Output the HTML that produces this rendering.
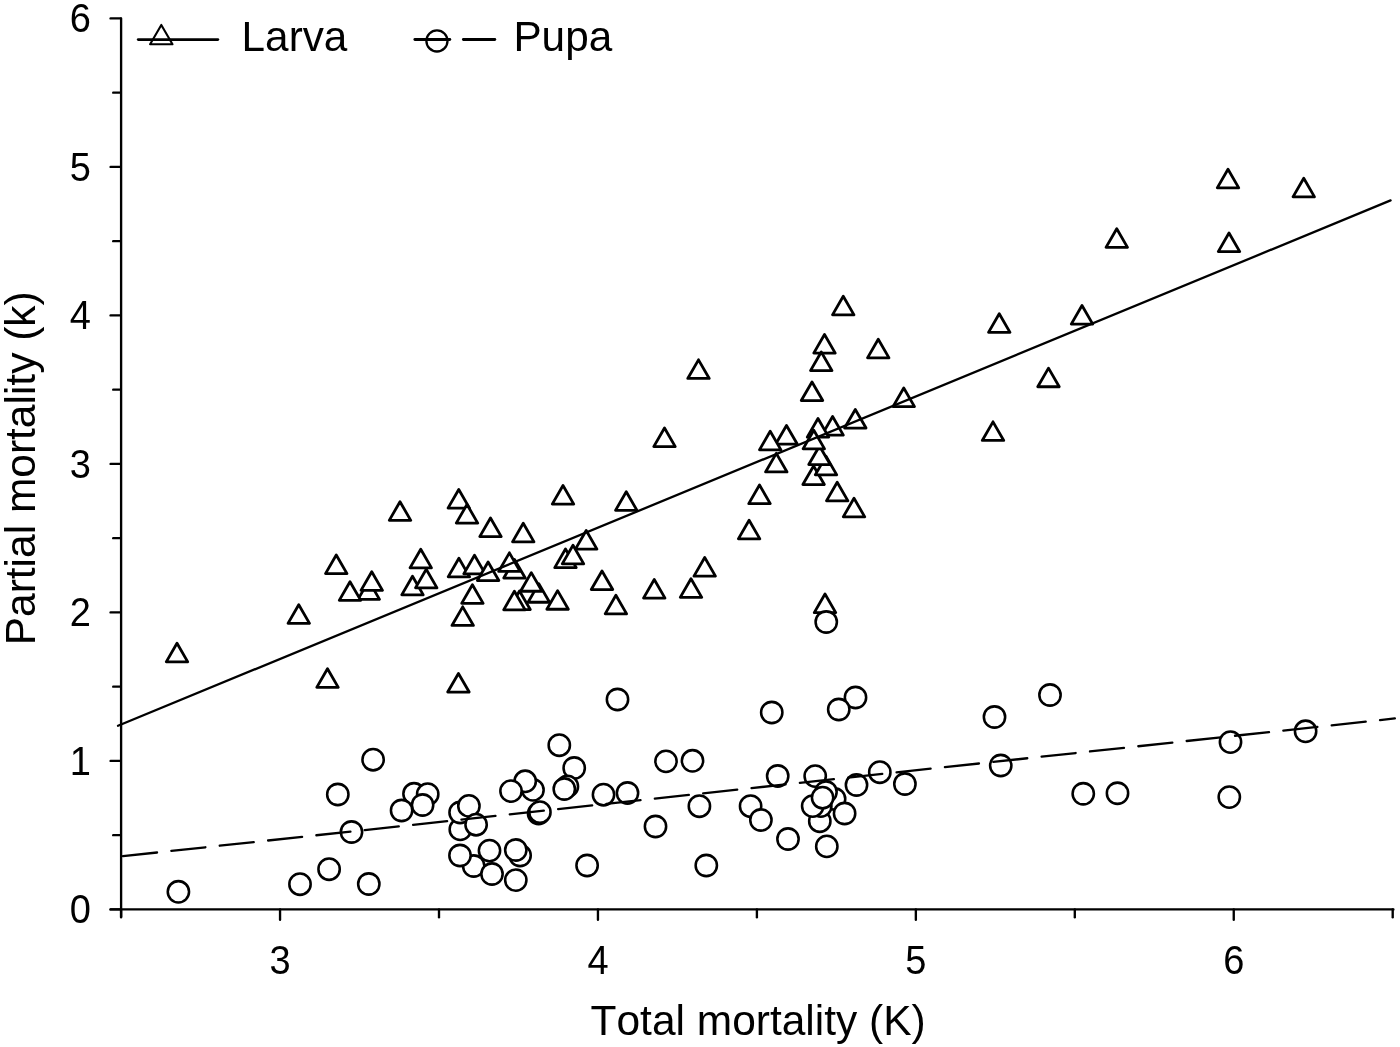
<!DOCTYPE html>
<html lang="en"><head><meta charset="utf-8"><title>Partial mortality vs total mortality</title>
<style>
html,body{margin:0;padding:0;background:#fff;}
body{width:1400px;height:1047px;overflow:hidden;}
svg{display:block;will-change:transform;}
text{font-family:"Liberation Sans",Arial,Helvetica,sans-serif;fill:#000;font-kerning:none;}
</style></head><body>
<svg width="1400" height="1047" viewBox="0 0 1400 1047">
<rect width="1400" height="1047" fill="#fff"/>
<g fill="#fff" stroke="#000" stroke-width="2.8" stroke-linejoin="round">
<path d="M400.00 501.73L410.75 520.35L389.25 520.35Z"/>
<path d="M336.25 554.98L347.00 573.60L325.50 573.60Z"/>
<path d="M420.75 549.23L431.50 567.85L410.00 567.85Z"/>
<path d="M368.75 580.73L379.50 599.35L358.00 599.35Z"/>
<path d="M371.75 571.73L382.50 590.35L361.00 590.35Z"/>
<path d="M350.00 581.73L360.75 600.35L339.25 600.35Z"/>
<path d="M412.50 576.23L423.25 594.85L401.75 594.85Z"/>
<path d="M426.25 569.23L437.00 587.85L415.50 587.85Z"/>
<path d="M298.75 604.73L309.50 623.35L288.00 623.35Z"/>
<path d="M177.00 643.23L187.75 661.85L166.25 661.85Z"/>
<path d="M327.50 668.73L338.25 687.35L316.75 687.35Z"/>
<path d="M458.75 489.48L469.50 508.10L448.00 508.10Z"/>
<path d="M467.00 504.48L477.75 523.10L456.25 523.10Z"/>
<path d="M490.50 517.98L501.25 536.60L479.75 536.60Z"/>
<path d="M523.25 523.23L534.00 541.85L512.50 541.85Z"/>
<path d="M563.00 485.48L573.75 504.10L552.25 504.10Z"/>
<path d="M626.25 491.73L637.00 510.35L615.50 510.35Z"/>
<path d="M664.50 427.98L675.25 446.60L653.75 446.60Z"/>
<path d="M586.20 530.48L596.95 549.10L575.45 549.10Z"/>
<path d="M565.50 549.03L576.25 567.65L554.75 567.65Z"/>
<path d="M573.00 545.23L583.75 563.85L562.25 563.85Z"/>
<path d="M458.90 558.23L469.65 576.85L448.15 576.85Z"/>
<path d="M474.50 555.23L485.25 573.85L463.75 573.85Z"/>
<path d="M488.10 561.93L498.85 580.55L477.35 580.55Z"/>
<path d="M514.50 559.43L525.25 578.05L503.75 578.05Z"/>
<path d="M509.40 552.83L520.15 571.45L498.65 571.45Z"/>
<path d="M472.40 584.73L483.15 603.35L461.65 603.35Z"/>
<path d="M462.70 606.83L473.45 625.45L451.95 625.45Z"/>
<path d="M538.80 583.63L549.55 602.25L528.05 602.25Z"/>
<path d="M531.30 572.63L542.05 591.25L520.55 591.25Z"/>
<path d="M519.50 590.93L530.25 609.55L508.75 609.55Z"/>
<path d="M514.40 591.23L525.15 609.85L503.65 609.85Z"/>
<path d="M557.60 590.63L568.35 609.25L546.85 609.25Z"/>
<path d="M602.00 570.93L612.75 589.55L591.25 589.55Z"/>
<path d="M615.90 595.23L626.65 613.85L605.15 613.85Z"/>
<path d="M654.25 579.48L665.00 598.10L643.50 598.10Z"/>
<path d="M691.00 578.73L701.75 597.35L680.25 597.35Z"/>
<path d="M704.70 557.53L715.45 576.15L693.95 576.15Z"/>
<path d="M749.10 520.23L759.85 538.85L738.35 538.85Z"/>
<path d="M759.50 485.03L770.25 503.65L748.75 503.65Z"/>
<path d="M698.50 359.83L709.25 378.45L687.75 378.45Z"/>
<path d="M843.25 296.23L854.00 314.85L832.50 314.85Z"/>
<path d="M824.50 334.48L835.25 353.10L813.75 353.10Z"/>
<path d="M821.25 351.98L832.00 370.60L810.50 370.60Z"/>
<path d="M878.25 339.23L889.00 357.85L867.50 357.85Z"/>
<path d="M999.25 313.73L1010.00 332.35L988.50 332.35Z"/>
<path d="M812.00 381.93L822.75 400.55L801.25 400.55Z"/>
<path d="M903.75 387.98L914.50 406.60L893.00 406.60Z"/>
<path d="M855.30 409.43L866.05 428.05L844.55 428.05Z"/>
<path d="M832.60 416.53L843.35 435.15L821.85 435.15Z"/>
<path d="M813.60 465.93L824.35 484.55L802.85 484.55Z"/>
<path d="M826.00 456.23L836.75 474.85L815.25 474.85Z"/>
<path d="M819.50 445.93L830.25 464.55L808.75 464.55Z"/>
<path d="M818.00 418.53L828.75 437.15L807.25 437.15Z"/>
<path d="M813.80 430.23L824.55 448.85L803.05 448.85Z"/>
<path d="M786.50 425.43L797.25 444.05L775.75 444.05Z"/>
<path d="M770.20 431.23L780.95 449.85L759.45 449.85Z"/>
<path d="M776.30 453.33L787.05 471.95L765.55 471.95Z"/>
<path d="M837.20 482.23L847.95 500.85L826.45 500.85Z"/>
<path d="M854.00 498.23L864.75 516.85L843.25 516.85Z"/>
<path d="M1048.50 368.13L1059.25 386.75L1037.75 386.75Z"/>
<path d="M993.00 421.83L1003.75 440.45L982.25 440.45Z"/>
<path d="M825.00 594.03L835.75 612.65L814.25 612.65Z"/>
<path d="M458.45 673.43L469.20 692.05L447.70 692.05Z"/>
<path d="M1228.00 169.23L1238.75 187.85L1217.25 187.85Z"/>
<path d="M1303.75 178.23L1314.50 196.85L1293.00 196.85Z"/>
<path d="M1116.75 228.73L1127.50 247.35L1106.00 247.35Z"/>
<path d="M1229.00 232.98L1239.75 251.60L1218.25 251.60Z"/>
<path d="M1082.00 305.48L1092.75 324.10L1071.25 324.10Z"/>
</g>
<g fill="#fff" stroke="#000" stroke-width="2.55">
<circle cx="178.40" cy="891.80" r="10.65"/>
<circle cx="373.10" cy="759.70" r="10.65"/>
<circle cx="337.80" cy="794.50" r="10.65"/>
<circle cx="414.00" cy="793.80" r="10.65"/>
<circle cx="427.70" cy="794.20" r="10.65"/>
<circle cx="422.60" cy="805.00" r="10.65"/>
<circle cx="401.60" cy="810.50" r="10.65"/>
<circle cx="351.50" cy="832.00" r="10.65"/>
<circle cx="329.10" cy="869.20" r="10.65"/>
<circle cx="300.00" cy="884.20" r="10.65"/>
<circle cx="368.80" cy="884.00" r="10.65"/>
<circle cx="460.30" cy="829.40" r="10.65"/>
<circle cx="460.10" cy="812.50" r="10.65"/>
<circle cx="468.90" cy="805.90" r="10.65"/>
<circle cx="476.10" cy="824.70" r="10.65"/>
<circle cx="473.70" cy="866.00" r="10.65"/>
<circle cx="460.00" cy="855.50" r="10.65"/>
<circle cx="489.50" cy="850.60" r="10.65"/>
<circle cx="492.00" cy="874.00" r="10.65"/>
<circle cx="559.30" cy="745.20" r="10.65"/>
<circle cx="574.20" cy="768.00" r="10.65"/>
<circle cx="567.40" cy="786.40" r="10.65"/>
<circle cx="564.30" cy="789.00" r="10.65"/>
<circle cx="533.00" cy="789.90" r="10.65"/>
<circle cx="525.20" cy="781.30" r="10.65"/>
<circle cx="511.00" cy="791.10" r="10.65"/>
<circle cx="538.60" cy="813.60" r="10.65"/>
<circle cx="539.90" cy="812.20" r="10.65"/>
<circle cx="603.50" cy="794.70" r="10.65"/>
<circle cx="627.50" cy="793.00" r="10.65"/>
<circle cx="666.00" cy="761.40" r="10.65"/>
<circle cx="692.50" cy="760.80" r="10.65"/>
<circle cx="699.40" cy="806.20" r="10.65"/>
<circle cx="655.50" cy="826.50" r="10.65"/>
<circle cx="706.30" cy="865.50" r="10.65"/>
<circle cx="587.10" cy="865.50" r="10.65"/>
<circle cx="520.10" cy="855.50" r="10.65"/>
<circle cx="515.80" cy="850.00" r="10.65"/>
<circle cx="515.80" cy="880.10" r="10.65"/>
<circle cx="617.50" cy="699.50" r="10.65"/>
<circle cx="771.75" cy="712.50" r="10.65"/>
<circle cx="855.50" cy="697.50" r="10.65"/>
<circle cx="838.75" cy="709.50" r="10.65"/>
<circle cx="826.25" cy="622.00" r="10.65"/>
<circle cx="777.70" cy="776.00" r="10.65"/>
<circle cx="819.80" cy="821.20" r="10.65"/>
<circle cx="815.20" cy="776.10" r="10.65"/>
<circle cx="834.60" cy="799.00" r="10.65"/>
<circle cx="826.00" cy="792.00" r="10.65"/>
<circle cx="820.80" cy="806.10" r="10.65"/>
<circle cx="812.70" cy="806.10" r="10.65"/>
<circle cx="822.60" cy="797.70" r="10.65"/>
<circle cx="844.60" cy="813.50" r="10.65"/>
<circle cx="856.50" cy="785.00" r="10.65"/>
<circle cx="879.80" cy="772.20" r="10.65"/>
<circle cx="904.90" cy="784.00" r="10.65"/>
<circle cx="750.60" cy="806.20" r="10.65"/>
<circle cx="760.90" cy="820.00" r="10.65"/>
<circle cx="788.00" cy="839.00" r="10.65"/>
<circle cx="826.80" cy="846.40" r="10.65"/>
<circle cx="1050.00" cy="695.00" r="10.65"/>
<circle cx="994.50" cy="717.00" r="10.65"/>
<circle cx="1000.75" cy="765.50" r="10.65"/>
<circle cx="1083.25" cy="793.75" r="10.65"/>
<circle cx="1117.50" cy="793.25" r="10.65"/>
<circle cx="1230.50" cy="742.10" r="10.65"/>
<circle cx="1229.30" cy="797.10" r="10.65"/>
<circle cx="1305.60" cy="731.30" r="10.65"/>
</g>
<g fill="none" stroke="#000" stroke-width="2.3" stroke-linecap="round">
<line x1="118" y1="725.8" x2="1390.6" y2="200.4"/>
<line x1="123" y1="856.2" x2="1394.85" y2="718.45" stroke-dasharray="34.25 14.38"/>
</g>
<g fill="none" stroke="#000" stroke-width="2.35" stroke-linecap="round">
<path d="M121.1 18.40V916.2"/>
<path d="M110.6 909.4H1393.4"/>
<path d="M110.6 909.40H120.6"/>
<path d="M113.2 835.15H120.6"/>
<path d="M110.6 760.90H120.6"/>
<path d="M113.2 686.65H120.6"/>
<path d="M110.6 612.40H120.6"/>
<path d="M113.2 538.15H120.6"/>
<path d="M110.6 463.90H120.6"/>
<path d="M113.2 389.65H120.6"/>
<path d="M110.6 315.40H120.6"/>
<path d="M113.2 241.15H120.6"/>
<path d="M110.6 166.90H120.6"/>
<path d="M113.2 92.65H120.6"/>
<path d="M110.6 18.40H120.6"/>
<path d="M121.10 909.4V917.2"/>
<path d="M280.05 909.4V919.7"/>
<path d="M439.00 909.4V917.2"/>
<path d="M597.95 909.4V919.7"/>
<path d="M756.90 909.4V917.2"/>
<path d="M915.85 909.4V919.7"/>
<path d="M1074.80 909.4V917.2"/>
<path d="M1233.75 909.4V919.7"/>
<path d="M1392.70 909.4V917.2"/>
</g>
<g font-size="38" text-anchor="end">
<text transform="translate(90.8 923.30) scale(1 1.05)">0</text>
<text transform="translate(90.8 774.80) scale(1 1.05)">1</text>
<text transform="translate(90.8 626.30) scale(1 1.05)">2</text>
<text transform="translate(90.8 477.80) scale(1 1.05)">3</text>
<text transform="translate(90.8 329.30) scale(1 1.05)">4</text>
<text transform="translate(90.8 180.80) scale(1 1.05)">5</text>
<text transform="translate(90.8 32.30) scale(1 1.05)">6</text>
</g>
<g font-size="38" text-anchor="middle">
<text transform="translate(280.05 974.2) scale(1 1.05)">3</text>
<text transform="translate(597.95 974.2) scale(1 1.05)">4</text>
<text transform="translate(915.85 974.2) scale(1 1.05)">5</text>
<text transform="translate(1233.75 974.2) scale(1 1.05)">6</text>
</g>
<text transform="translate(758.1 1034.5) scale(1 1.015)" font-size="42.5" text-anchor="middle">Total mortality (K)</text>
<text transform="translate(35 468.3) rotate(-90) scale(1 1.015)" font-size="42.5" text-anchor="middle">Partial mortality (k)</text>
<g fill="none" stroke="#000" stroke-width="2.9" stroke-linecap="round">
<line x1="138.3" y1="39.6" x2="217.8" y2="39.6"/>
<line x1="414.9" y1="39.5" x2="449.8" y2="39.5"/>
<line x1="463.4" y1="39.5" x2="494.8" y2="39.5"/>
</g>
<g fill="none" stroke="#000" stroke-width="2.1" stroke-linejoin="round">
<path d="M161.3 24.9L172.5 44.3L150.1 44.3Z"/>
<circle cx="436.95" cy="40.95" r="10.55" stroke-width="2.3"/>
</g>
<text transform="translate(241.6 50.6) scale(1 1.015)" font-size="42.3">Larva</text>
<text transform="translate(513.4 50.6) scale(1 1.015)" font-size="42.3">Pupa</text>
</svg></body></html>
